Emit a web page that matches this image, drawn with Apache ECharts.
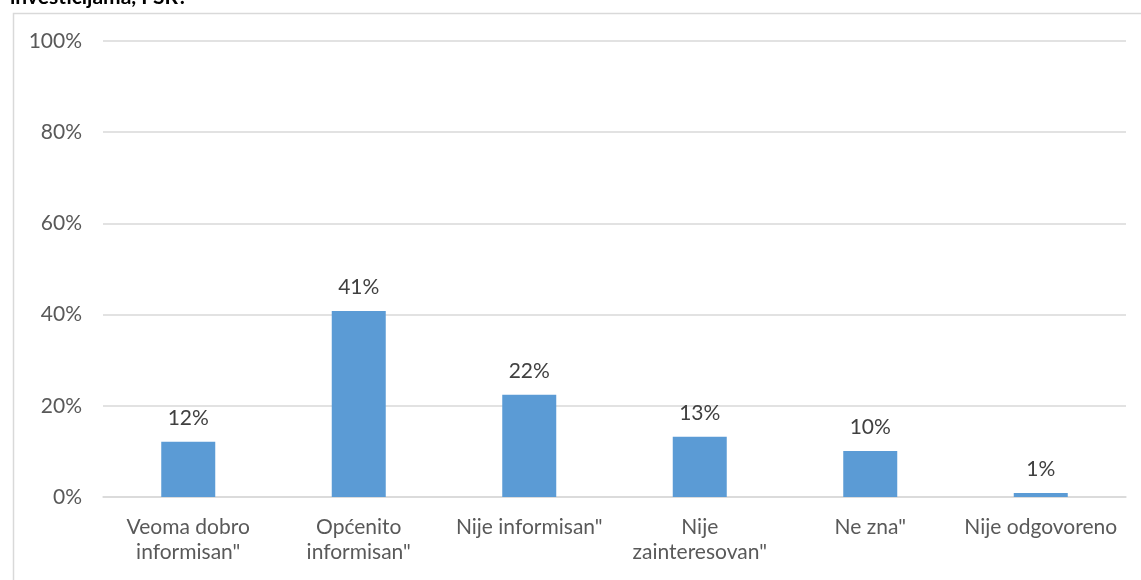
<!DOCTYPE html>
<html>
<head>
<meta charset="utf-8">
<script src="https://cdn.jsdelivr.net/npm/echarts@6/dist/echarts.min.js"></script>
<style>html,body{margin:0;padding:0;background:#fff;}#c{width:1141px;height:580px;}</style>
</head>
<body>
<div id="c"></div>
<script>
const titleText = 'investicijama, FSR?';
const categories = ['Veoma dobro\ninformisan"', 'Općenito\ninformisan"', 'Nije informisan"', 'Nije\nzainteresovan"', 'Ne zna"', 'Nije odgovoreno'];
const values = [12.1, 40.8, 22.4, 13.2, 10.1, 0.9];
const yTicks = [0, 20, 40, 60, 80, 100];

const FONT = 'Lato';
const chart = echarts.init(document.getElementById('c'), null, {renderer: 'canvas'});
chart.setOption({
  animation: false,
  backgroundColor: '#fff',
  graphic: [
    {type: 'rect', left: 11, top: 11, shape: {width: 1300, height: 800}, style: {fill: 'none', stroke: '#d9d9d9', lineWidth: 1.5}, z: 0},
    {type: 'text', left: 10, top: -13, style: {text: titleText, font: 'bold 21px ' + FONT, fill: '#000'}}
  ],
  grid: {left: 103, right: 15, top: 41, bottom: 83},
  xAxis: {
    type: 'category',
    data: categories,
    axisLine: {show: true, lineStyle: {color: '#d9d9d9', width: 1.5}},
    axisTick: {show: false},
    axisLabel: {color: '#595959', fontFamily: FONT, fontSize: 21, lineHeight: 25, margin: 18, interval: 0}
  },
  yAxis: {
    type: 'value',
    min: 0, max: 100, interval: 20,
    axisLine: {show: false},
    axisTick: {show: false},
    splitLine: {lineStyle: {color: '#d9d9d9', width: 1.5}},
    axisLabel: {color: '#595959', fontFamily: FONT, fontSize: 21, margin: 21, formatter: v => yTicks.includes(v) ? v + '%' : ''}
  },
  series: [{
    type: 'bar',
    data: values,
    barWidth: 54,
    itemStyle: {color: '#5b9bd5'},
    label: {show: true, position: 'top', distance: 13, color: '#404040', fontFamily: FONT, fontSize: 21, formatter: p => Math.round(p.value) + '%'}
  }]
});
</script>
</body>
</html>
